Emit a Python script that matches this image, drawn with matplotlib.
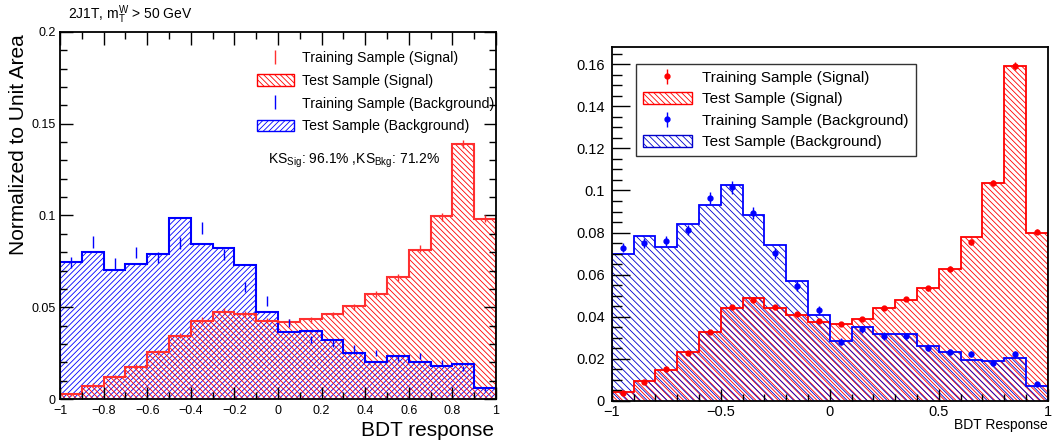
import numpy as np
import matplotlib
matplotlib.use("Agg")
import matplotlib.pyplot as plt
from matplotlib.patches import Patch
from matplotlib.ticker import MultipleLocator, FuncFormatter

plt.rcParams['font.family'] = ['Liberation Sans', 'DejaVu Sans']
plt.rcParams['mathtext.fontset'] = 'custom'
plt.rcParams['mathtext.rm'] = 'Liberation Sans'
plt.rcParams['mathtext.it'] = 'Liberation Sans:italic'
plt.rcParams['hatch.linewidth'] = 0.6

# ---------------- data ----------------
edges = np.linspace(-1, 1, 21)

# Left panel (2J1T, mTW > 50 GeV)
left_sig_test = [0.0025, 0.0073, 0.0118, 0.0172, 0.0258, 0.0343, 0.0427, 0.0476, 0.0461, 0.0427,
                 0.0421, 0.0434, 0.0461, 0.0505, 0.0570, 0.0663, 0.0810, 0.0996, 0.1388, 0.0981]
left_bkg_test = [0.0748, 0.0799, 0.0703, 0.0734, 0.0788, 0.0985, 0.0845, 0.0821, 0.0732, 0.0476,
                 0.0363, 0.0373, 0.0323, 0.0249, 0.0202, 0.0236, 0.0200, 0.0182, 0.0191, 0.0058]
left_sig_train = [0.0027, 0.0075, 0.0120, 0.0176, 0.0255, 0.0345, 0.0430, 0.0478, 0.0462, 0.0428,
                  0.0420, 0.0430, 0.0460, 0.0503, 0.0572, 0.0663, 0.0819, 0.0992, 0.1390, 0.0985]
left_sig_train_err = [0.0008, 0.0010, 0.0012, 0.0013, 0.0014, 0.0015, 0.0016, 0.0016, 0.0016, 0.0015,
                      0.0015, 0.0015, 0.0016, 0.0016, 0.0017, 0.0018, 0.0018, 0.0020, 0.0022, 0.0020]
left_bkg_train = [0.0743, 0.0854, 0.0739, 0.0799, 0.0770, 0.0852, 0.0930, 0.0785, 0.0612, 0.0534,
                  0.0416, 0.0325, 0.0303, 0.0276, 0.0252, 0.0222, 0.0234, 0.0198, 0.0167, 0.0053]
left_bkg_train_err = [0.0030, 0.0032, 0.0030, 0.0031, 0.0030, 0.0032, 0.0033, 0.0030, 0.0027, 0.0025,
                      0.0022, 0.0020, 0.0019, 0.0018, 0.0017, 0.0016, 0.0016, 0.0015, 0.0014, 0.0008]

# Right panel
right_sig_test = [0.0041, 0.0093, 0.0147, 0.0231, 0.0329, 0.0443, 0.0487, 0.0442, 0.0408, 0.0377,
                  0.0367, 0.0389, 0.0440, 0.0480, 0.0535, 0.0625, 0.0777, 0.1034, 0.1592, 0.0796]
right_bkg_test = [0.0700, 0.0783, 0.0730, 0.0840, 0.0929, 0.1024, 0.0882, 0.0741, 0.0568, 0.0407,
                  0.0286, 0.0353, 0.0320, 0.0320, 0.0260, 0.0233, 0.0195, 0.0188, 0.0204, 0.0071]
right_sig_train = [0.0040, 0.0088, 0.0150, 0.0228, 0.0330, 0.0447, 0.0480, 0.0448, 0.0415, 0.0380,
                   0.0367, 0.0389, 0.0440, 0.0483, 0.0535, 0.0627, 0.0755, 0.1035, 0.1592, 0.0804]
right_sig_train_err = [0.0004, 0.0006, 0.0007, 0.0008, 0.0009, 0.0010, 0.0010, 0.0010, 0.0010, 0.0009,
                       0.0009, 0.0009, 0.0010, 0.0010, 0.0011, 0.0012, 0.0013, 0.0015, 0.0018, 0.0013]
right_bkg_train = [0.0728, 0.0750, 0.0760, 0.0813, 0.0965, 0.1015, 0.0894, 0.0701, 0.0546, 0.0432,
                   0.0282, 0.0340, 0.0309, 0.0307, 0.0253, 0.0233, 0.0223, 0.0182, 0.0222, 0.0081]
right_bkg_train_err = [0.0022, 0.0023, 0.0023, 0.0025, 0.0030, 0.0031, 0.0028, 0.0025, 0.0023, 0.0020,
                       0.0017, 0.0018, 0.0017, 0.0017, 0.0016, 0.0015, 0.0015, 0.0014, 0.0016, 0.0009]

labels = ["Training Sample (Signal)", "Test Sample (Signal)",
          "Training Sample (Background)", "Test Sample (Background)"]
title_left = r"2J1T, $\mathrm{m}_{\mathrm{T}}^{\mathrm{W}}$ > 50 GeV"
ks_text = r"KS$_{\mathrm{Sig}}$: 96.1% ,KS$_{\mathrm{Bkg}}$: 71.2%"

centers = 0.5 * (edges[:-1] + edges[1:])

W, H = 1053, 443
fig = plt.figure(figsize=(W / 100, H / 100), dpi=100)


def ax_rect(x0, y0, x1, y1):
    return [x0 / W, 1 - y1 / H, (x1 - x0) / W, (y1 - y0) / H]


fmt = FuncFormatter(lambda v, p: ("%g" % (round(v, 8) + 0.0)).replace("-", "\u2212"))

RED, BLUE = "#ff0000", "#0000ff"
HL_SIG = "\\" * 6
HL_BKG = "/" * 6
HR_SIG = "\\" * 6
HR_BKG = "\\" * 5

# ---------------- left panel ----------------
axL = fig.add_axes(ax_rect(60, 32, 496, 399))
axL.stairs(left_bkg_test, edges, fill=True, facecolor="none", edgecolor=BLUE,
           hatch=HL_BKG, linewidth=0)
axL.stairs(left_sig_test, edges, fill=True, facecolor="none", edgecolor=RED,
           hatch=HL_SIG, linewidth=0)
axL.stairs(left_bkg_test, edges, color=BLUE, linewidth=1.5)
axL.stairs(left_sig_test, edges, color="#ff3030", linewidth=1.5)
hL1 = axL.errorbar(centers, left_sig_train, yerr=left_sig_train_err, fmt="none",
                   ecolor="#ff3030", elinewidth=1)
hL3 = axL.errorbar(centers, left_bkg_train, yerr=left_bkg_train_err, fmt="none",
                   ecolor=BLUE, elinewidth=1)
axL.set_xlim(-1, 1)
axL.set_ylim(0, 0.2)
axL.xaxis.set_major_locator(MultipleLocator(0.2))
axL.xaxis.set_minor_locator(MultipleLocator(0.1))
axL.yaxis.set_major_locator(MultipleLocator(0.05))
axL.yaxis.set_minor_locator(MultipleLocator(0.01))
axL.xaxis.set_major_formatter(fmt)
axL.yaxis.set_major_formatter(fmt)
axL.tick_params(which="both", direction="in", top=True, right=True, labelsize=9)
axL.tick_params(axis="x", pad=4)
axL.tick_params(axis="y", pad=3)
axL.tick_params(which="major", length=9, width=1)
axL.tick_params(which="minor", length=5, width=1)
for s in axL.spines.values():
    s.set_linewidth(1.3)
hL2 = Patch(facecolor="none", edgecolor=RED, hatch=HL_SIG, linewidth=1)
hL4 = Patch(facecolor="none", edgecolor=BLUE, hatch=HL_BKG, linewidth=1)
axL.legend([hL1, hL2, hL3, hL4], labels, loc="upper left", bbox_to_anchor=(0.452, 0.948),
           frameon=False, fontsize=10.2, handlelength=2.6, handleheight=0.85,
           labelspacing=0.62, handletextpad=0.55, borderpad=0, borderaxespad=0)
axL.text(0.477, 0.649, ks_text, transform=axL.transAxes, fontsize=10, va="center", ha="left")
fig.text(68 / W, 1 - 15 / H, title_left, fontsize=10, va="center", ha="left")
fig.text(19 / W, 1 - 145 / H, "Normalized to Unit Area", rotation=90, fontsize=15,
         va="center", ha="center")
fig.text(494 / W, 1 - 430 / H, "BDT response", fontsize=15, va="center", ha="right")

# ---------------- right panel ----------------
axR = fig.add_axes(ax_rect(611.7, 47.3, 1047.7, 401))
axR.stairs(right_sig_test, edges, fill=True, facecolor="none", edgecolor=RED,
           hatch=HR_SIG, linewidth=0)
axR.stairs(right_bkg_test, edges, fill=True, facecolor="none", edgecolor="#0000cc",
           hatch=HR_BKG, linewidth=0)
axR.stairs(right_sig_test, edges, color=RED, linewidth=1.3)
axR.stairs(right_bkg_test, edges, color=BLUE, linewidth=1.3)
hR1 = axR.errorbar(centers, right_sig_train, yerr=right_sig_train_err, fmt="o", ms=3.5,
                   color=RED, ecolor=RED, elinewidth=1)
hR3 = axR.errorbar(centers, right_bkg_train, yerr=right_bkg_train_err, fmt="o", ms=3.5,
                   color=BLUE, ecolor=BLUE, elinewidth=1)
axR.set_xlim(-1, 1)
axR.set_ylim(0, 0.168)
axR.xaxis.set_major_locator(MultipleLocator(0.5))
axR.xaxis.set_minor_locator(MultipleLocator(0.1))
axR.yaxis.set_major_locator(MultipleLocator(0.02))
axR.yaxis.set_minor_locator(MultipleLocator(0.005))
axR.xaxis.set_major_formatter(fmt)
axR.yaxis.set_major_formatter(fmt)
axR.tick_params(which="both", direction="in", labelsize=10.5)
axR.tick_params(axis="x", pad=3)
axR.tick_params(axis="y", pad=5)
axR.tick_params(axis="y", which="major", length=13, width=1)
axR.tick_params(axis="y", which="minor", length=7, width=1)
axR.tick_params(axis="x", which="major", length=9, width=1)
axR.tick_params(axis="x", which="minor", length=5, width=1)
for s in axR.spines.values():
    s.set_linewidth(1.3)
hR2 = Patch(facecolor="none", edgecolor=RED, hatch=HR_SIG, linewidth=1)
hR4 = Patch(facecolor="none", edgecolor="#0000cc", hatch=HR_BKG, linewidth=1)
legR = axR.legend([hR1, hR2, hR3, hR4], labels, loc="upper left",
                  bbox_to_anchor=(0.0557, 0.953), frameon=True, fancybox=False,
                  edgecolor="black", fontsize=11, handlelength=3.2, handleheight=0.8,
                  labelspacing=0.48, handletextpad=0.7, borderpad=0.45, borderaxespad=0)
legR.get_frame().set_linewidth(1)
fig.text(1048 / W, 1 - 425 / H, "BDT Response", fontsize=10, va="center", ha="right")

fig.savefig("out.png", dpi=100)
